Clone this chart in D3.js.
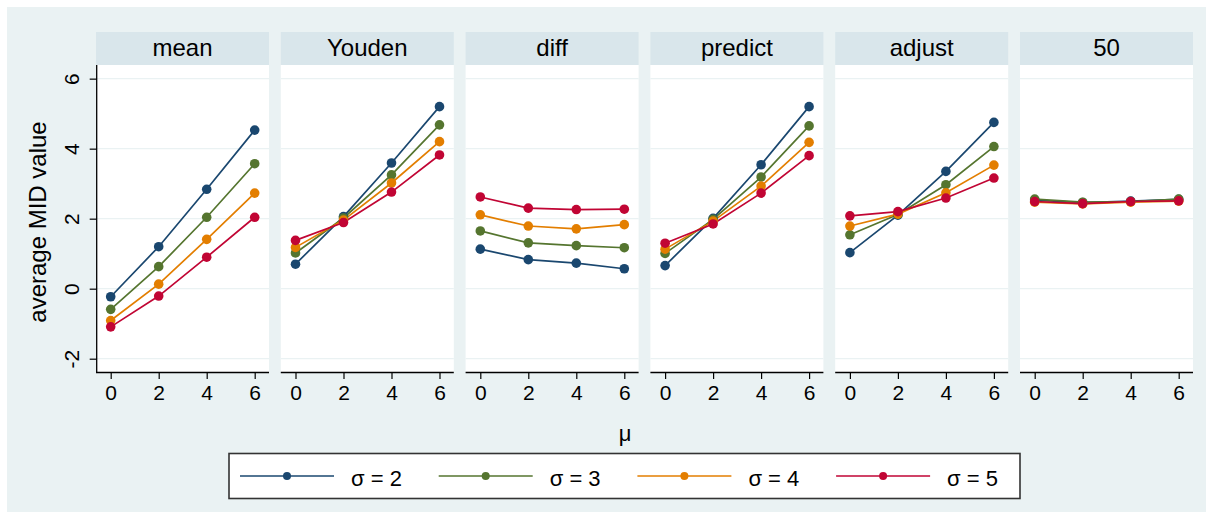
<!DOCTYPE html>
<html>
<head>
<meta charset="utf-8">
<script src="https://cdn.jsdelivr.net/npm/d3@7"></script>
<style>
  html, body { margin: 0; padding: 0; background: #ffffff; }
  svg { display: block; font-family: "Liberation Sans", Arial, Helvetica, sans-serif; }
</style>
</head>
<body>
<svg id="chart" width="1213" height="519"></svg>
<script>
// x values (μ) and the σ groups
const muValues = [0, 2, 4, 6];
const sigmaLevels = [2, 3, 4, 5];
const methods = ["mean", "Youden", "diff", "predict", "adjust", "50"];

// average MID value, one row per σ (2, 3, 4, 5), columns μ = 0, 2, 4, 6
const meanVals = [
  [-0.23, 1.20, 2.84, 4.53],
  [-0.59, 0.63, 2.04, 3.57],
  [-0.91, 0.13, 1.41, 2.73],
  [-1.09, -0.21, 0.90, 2.04]
];
const youdenVals = [
  [0.70, 2.06, 3.59, 5.20],
  [1.02, 2.02, 3.25, 4.68],
  [1.18, 1.96, 3.02, 4.20],
  [1.38, 1.89, 2.76, 3.82]
];
const diffVals = [
  [1.13, 0.83, 0.73, 0.57],
  [1.65, 1.31, 1.23, 1.17],
  [2.11, 1.79, 1.71, 1.83],
  [2.62, 2.30, 2.26, 2.27]
];
const predictVals = [
  [0.66, 2.01, 3.54, 5.20],
  [1.01, 1.98, 3.19, 4.65],
  [1.13, 1.93, 2.93, 4.18],
  [1.30, 1.85, 2.73, 3.80]
];
const adjustVals = [
  [1.03, 2.10, 3.35, 4.75],
  [1.54, 2.12, 2.97, 4.06],
  [1.79, 2.13, 2.74, 3.53],
  [2.08, 2.20, 2.59, 3.16]
];
const fiftyVals = [
  [2.53, 2.46, 2.50, 2.55],
  [2.56, 2.47, 2.49, 2.56],
  [2.47, 2.42, 2.47, 2.50],
  [2.49, 2.43, 2.49, 2.51]
];
const yTicks = [-2, 0, 2, 4, 6];
const xTicks = [0, 2, 4, 6];

const panelData = [meanVals, youdenVals, diffVals, predictVals, adjustVals, fiftyVals];
const colors = ["#1a476f", "#55752f", "#e37e00", "#c10534"];

const svg = d3.select("#chart");
const W = 1213, H = 519;
const plainNum = d => String(d);

// outer graph region
svg.append("rect").attr("x", 0).attr("y", 0).attr("width", W).attr("height", H).attr("fill", "#ffffff");
svg.append("rect").attr("x", 7).attr("y", 7).attr("width", W - 14).attr("height", H - 14).attr("fill", "#eaf2f3");

// panel layout
const panelLeft0 = 96, panelStep = 184.8, panelW = 173;
const stripTop = 32, plotTop = 65, plotBottom = 372;

const y = d3.scaleLinear().domain([-2.38, 6.39]).range([plotBottom, plotTop]);

const lineGen = (xs) => d3.line().x((d, i) => xs(muValues[i])).y(d => y(d));

methods.forEach((name, p) => {
  const left = panelLeft0 + p * panelStep;
  const x = d3.scaleLinear().domain([-0.6125, 6.596]).range([left, left + panelW]);
  const g = svg.append("g");

  // strip title
  g.append("rect").attr("x", left).attr("y", stripTop).attr("width", panelW)
    .attr("height", plotTop - stripTop).attr("fill", "#d9e6eb");
  g.append("text").attr("x", left + panelW / 2).attr("y", 56)
    .attr("text-anchor", "middle").attr("font-size", 24).attr("fill", "#000")
    .text(name);

  // plot area
  g.append("rect").attr("x", left).attr("y", plotTop).attr("width", panelW)
    .attr("height", plotBottom - plotTop).attr("fill", "#ffffff");

  // grid lines
  g.selectAll("line.grid").data(yTicks).join("line")
    .attr("class", "grid")
    .attr("x1", left).attr("x2", left + panelW)
    .attr("y1", d => y(d)).attr("y2", d => y(d))
    .attr("stroke", "#eaf2f3").attr("stroke-width", 1.2);

  // x axis
  const xAxis = d3.axisBottom(x).tickValues(xTicks).tickSize(7).tickPadding(6).tickFormat(plainNum);
  const xa = g.append("g").attr("transform", `translate(0,${plotBottom})`).call(xAxis);
  xa.select(".domain").attr("d", `M${left},0.5H${left + panelW}`).attr("stroke", "#000").attr("stroke-width", 1.3);
  xa.selectAll(".tick line").attr("stroke", "#000").attr("stroke-width", 1.2);
  xa.selectAll(".tick text").attr("font-size", 21).attr("fill", "#000")
    .attr("font-family", "Liberation Sans, Arial, sans-serif");

  // y axis on the first panel only
  if (p === 0) {
    const yAxis = d3.axisLeft(y).tickValues(yTicks).tickSize(7).tickPadding(0).tickFormat(plainNum);
    const ya = g.append("g").attr("transform", `translate(${left + 0.7},0)`).call(yAxis);
    ya.select(".domain").attr("d", `M0,${plotTop}V${plotBottom}`).attr("stroke", "#000").attr("stroke-width", 1.3);
    ya.selectAll(".tick line").attr("stroke", "#000").attr("stroke-width", 1.2);
    ya.selectAll(".tick text")
      .attr("font-size", 21).attr("fill", "#000")
      .attr("font-family", "Liberation Sans, Arial, sans-serif")
      .attr("x", null).attr("dy", null)
      .attr("text-anchor", "middle")
      .attr("transform", "translate(-18,0) rotate(-90)")
      .attr("y", 0);
  }

  // series lines and markers
  panelData[p].forEach((vals, s) => {
    g.append("path").datum(vals)
      .attr("d", lineGen(x))
      .attr("fill", "none").attr("stroke", colors[s]).attr("stroke-width", 1.7);
  });
  panelData[p].forEach((vals, s) => {
    g.selectAll(null).data(vals).join("circle")
      .attr("cx", (d, i) => x(muValues[i])).attr("cy", d => y(d))
      .attr("r", 4.8).attr("fill", colors[s]);
  });
});

// axis titles
svg.append("text")
  .attr("transform", "translate(46,222) rotate(-90)")
  .attr("text-anchor", "middle").attr("font-size", 24).attr("fill", "#000")
  .text("average MID value");
svg.append("text").attr("x", 625).attr("y", 441)
  .attr("text-anchor", "middle").attr("font-size", 22).attr("fill", "#000")
  .text("μ");

// legend
const legend = svg.append("g");
legend.append("rect").attr("x", 229).attr("y", 453.5).attr("width", 791).attr("height", 45)
  .attr("fill", "#ffffff").attr("stroke", "#333333").attr("stroke-width", 1.6);
const legendX = d3.scaleLinear().domain([0, 1]).range([240, 438.7]);
sigmaLevels.forEach((sg, s) => {
  const x0 = legendX(s);
  legend.append("line").attr("x1", x0).attr("x2", x0 + 94).attr("y1", 476).attr("y2", 476)
    .attr("stroke", colors[s]).attr("stroke-width", 1.7);
  legend.append("circle").attr("cx", x0 + 47).attr("cy", 476).attr("r", 4).attr("fill", colors[s]);
  legend.append("text").attr("x", x0 + 111).attr("y", 486)
    .attr("font-size", 22).attr("fill", "#000")
    .text(`σ = ${sg}`);
});
</script>
</body>
</html>
